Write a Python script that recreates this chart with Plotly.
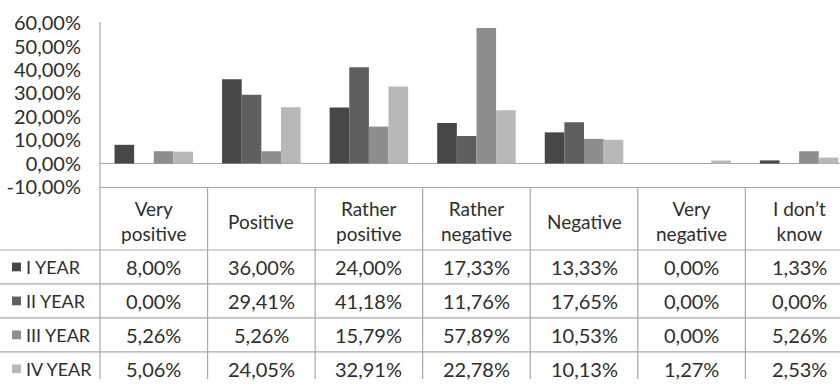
import plotly.graph_objects as go

# Survey answers per study year (percent of respondents)
categories = ["Very<br>positive", "Positive", "Rather<br>positive", "Rather<br>negative",
              "Negative", "Very<br>negative", "I don’t<br>know"]
series_names = ["I YEAR", "II YEAR", "III YEAR", "IV YEAR"]
year_1 = [8.00, 36.00, 24.00, 17.33, 13.33, 0.00, 1.33]
year_2 = [0.00, 29.41, 41.18, 11.76, 17.65, 0.00, 0.00]
year_3 = [5.26, 5.26, 15.79, 57.89, 10.53, 0.00, 5.26]
year_4 = [5.06, 24.05, 32.91, 22.78, 10.13, 1.27, 2.53]
y_ticks = [-10, 0, 10, 20, 30, 40, 50, 60]

series_values = [year_1, year_2, year_3, year_4]
colors = ["#474747", "#5f5f5f", "#8e8e8e", "#b8b8b8"]

W, H = 840, 390
TOP = 22          # top of the plot area (px)
AXIS_BOTTOM = 192  # -10 % line (px)
HEADER_BOTTOM = 257
ROW_H = 35
LEFT = 100
FONT = "Lato"
FS_NUM = 20       # numbers
FS_TXT = 18       # row names
FS_HEAD = 19      # column headers
TEXT_COLOR = "#2e2e2e"
GRID = "#a8a8a8"

plot_h = H - TOP


def py(pix):
    """Convert a pixel row to paper y."""
    return 1 - (pix - TOP) / plot_h


def px(pix):
    """Convert a pixel column to paper x."""
    return (pix - LEFT) / (W - LEFT)


def pct(v):
    return f"{v:.2f}".replace(".", ",") + "%"


fig = go.Figure()
idx = list(range(len(categories)))
for name, vals, col in zip(series_names, series_values, colors):
    fig.add_trace(go.Bar(x=idx, y=vals, name=name, marker=dict(color=col, line=dict(width=0))))

shapes = []
annotations = []

# vertical axis line running through the table
shapes.append(dict(type="line", xref="paper", yref="paper", x0=0, x1=0, y0=py(TOP), y1=py(H),
                   line=dict(color=GRID, width=1.2)))
# category separators in the table
for i in range(1, len(categories) + 1):
    shapes.append(dict(type="line", xref="x", yref="paper", x0=i - 0.5, x1=i - 0.5,
                       y0=py(AXIS_BOTTOM), y1=py(H), line=dict(color=GRID, width=1.2)))
# row separators
for r in range(len(series_names)):
    yy = py(HEADER_BOTTOM + r * ROW_H)
    shapes.append(dict(type="line", xref="paper", yref="paper", x0=px(0), x1=1, y0=yy, y1=yy,
                       line=dict(color=GRID, width=1.2)))

# header cells
for i, cat in enumerate(categories):
    annotations.append(dict(x=i, xref="x", y=py((AXIS_BOTTOM + HEADER_BOTTOM) / 2 + 3), yref="paper",
                            text=cat, showarrow=False, xanchor="center", yanchor="middle",
                            font=dict(family=FONT, size=FS_HEAD, color=TEXT_COLOR)))

# data rows with legend keys
for r, (name, vals, col) in enumerate(zip(series_names, series_values, colors)):
    cy = HEADER_BOTTOM + r * ROW_H + ROW_H / 2
    shapes.append(dict(type="rect", xref="paper", yref="paper", x0=px(12), x1=px(21),
                       y0=py(cy - 4.5), y1=py(cy + 4.5), fillcolor=col, line=dict(width=0)))
    annotations.append(dict(x=px(24), xref="paper", y=py(cy), yref="paper", text=name,
                            showarrow=False, xanchor="left", yanchor="middle",
                            font=dict(family=FONT, size=FS_TXT, color=TEXT_COLOR)))
    for i, v in enumerate(vals):
        annotations.append(dict(x=i, xref="x", y=py(cy), yref="paper", text=pct(v),
                                showarrow=False, xanchor="center", yanchor="middle",
                                font=dict(family=FONT, size=FS_NUM, color=TEXT_COLOR)))

fig.update_layout(
    width=W, height=H,
    margin=dict(l=LEFT, r=0, t=TOP, b=0),
    paper_bgcolor="white", plot_bgcolor="white",
    barmode="group", bargap=0.27, bargroupgap=0,
    showlegend=False,
    font=dict(family=FONT, size=FS_NUM, color=TEXT_COLOR),
    xaxis=dict(range=[-0.5, 6.38], showticklabels=False, showgrid=False, zeroline=False,
               showline=True, linecolor=GRID, linewidth=1.2, fixedrange=True),
    yaxis=dict(domain=[py(AXIS_BOTTOM), 1], range=[-10, 60.5], tickvals=y_ticks,
               ticktext=[pct(t) for t in y_ticks], showgrid=False, zeroline=True,
               zerolinecolor=GRID, zerolinewidth=1.2, showline=False, ticks="",
               ticklabelstandoff=18, tickfont=dict(family=FONT, size=FS_NUM, color=TEXT_COLOR)),
    shapes=shapes,
    annotations=annotations,
)

fig.write_html("out.html")
